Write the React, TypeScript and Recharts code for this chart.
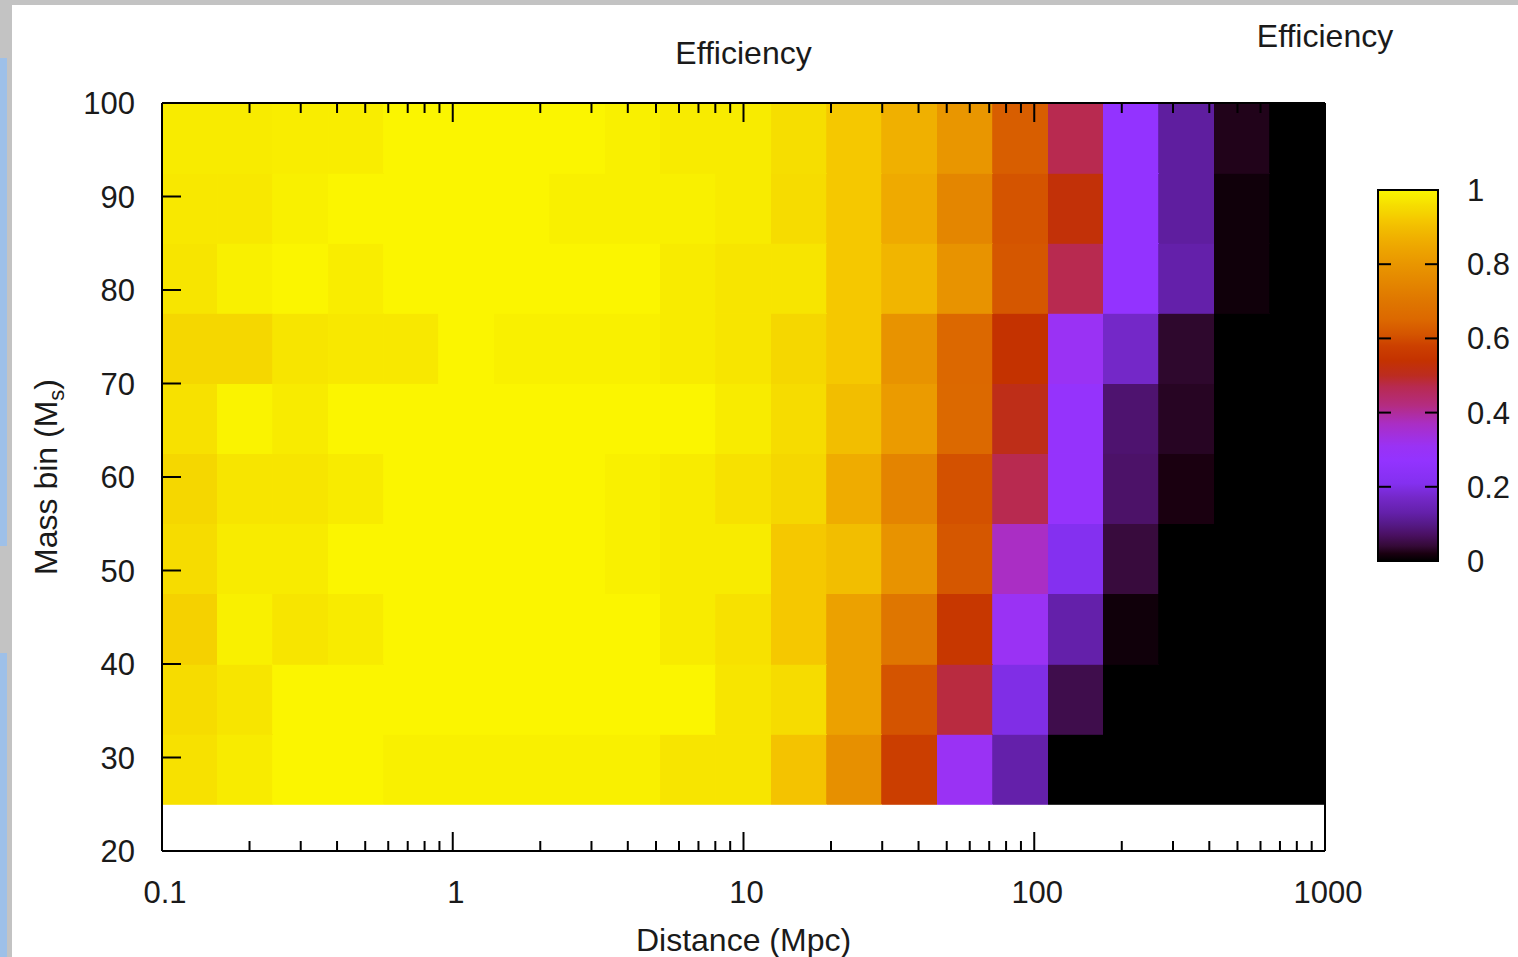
import React from 'react';
import { ComposedChart, XAxis, YAxis, ReferenceArea, Label, Scatter } from 'recharts';

// ---------------- data ----------------
// Distance bin edges (Mpc), logarithmic bins from 0.1 to 1000
const distanceBinEdges = [
  0.1, 0.15505, 0.24037, 0.37276, 0.57797, 0.89615, 1.3895, 2.15443, 3.34048, 5.17947, 8.03085,
  12.452, 19.307, 29.9358, 46.4159, 71.9686, 111.589, 173.021, 268.27, 415.956, 644.946, 1000,
];
// Mass bin edges (M_s)
const massBinEdges = [25, 32.5, 40, 47.5, 55, 62.5, 70, 77.5, 85, 92.5, 100];

// Efficiency per mass bin (bottom to top), one value per distance bin
const effMass25 = [0.965, 0.98, 1, 1, 0.99, 0.99, 0.99, 0.99, 0.99, 0.97, 0.97, 0.91, 0.78, 0.575, 0.31, 0.13, 0, 0, 0, 0, 0];
const effMass32 = [0.955, 0.97, 1, 1, 1, 1, 1, 1, 1, 1, 0.97, 0.955, 0.83, 0.61, 0.48, 0.2, 0.055, 0, 0, 0, 0];
const effMass40 = [0.935, 0.99, 0.97, 0.98, 1, 1, 1, 1, 1, 0.98, 0.965, 0.92, 0.83, 0.7, 0.555, 0.31, 0.13, 0.012, 0, 0, 0];
const effMass47 = [0.955, 0.98, 0.98, 1, 1, 1, 1, 1, 0.99, 0.98, 0.98, 0.92, 0.9, 0.79, 0.615, 0.37, 0.21, 0.045, 0, 0, 0];
const effMass55 = [0.945, 0.97, 0.97, 0.98, 1, 1, 1, 1, 0.99, 0.98, 0.965, 0.945, 0.86, 0.745, 0.605, 0.47, 0.28, 0.075, 0.02, 0, 0];
const effMass62 = [0.965, 0.995, 0.98, 1, 1, 1, 1, 1, 1, 1, 0.98, 0.955, 0.9, 0.815, 0.655, 0.51, 0.28, 0.08, 0.03, 0, 0];
const effMass70 = [0.945, 0.945, 0.97, 0.975, 0.975, 1, 0.99, 0.99, 0.99, 0.98, 0.97, 0.945, 0.92, 0.79, 0.65, 0.54, 0.31, 0.17, 0.035, 0, 0];
const effMass77 = [0.97, 0.99, 1, 0.985, 1, 1, 1, 1, 1, 0.98, 0.97, 0.97, 0.92, 0.88, 0.79, 0.615, 0.47, 0.27, 0.13, 0.012, 0];
const effMass85 = [0.975, 0.975, 0.99, 1, 1, 1, 1, 0.99, 0.99, 0.99, 0.98, 0.955, 0.92, 0.855, 0.75, 0.61, 0.53, 0.27, 0.12, 0.012, 0];
const effMass92 = [0.98, 0.98, 0.985, 0.985, 1, 1, 1, 1, 0.99, 0.98, 0.98, 0.96, 0.92, 0.87, 0.8, 0.63, 0.47, 0.27, 0.12, 0.025, 0];
const efficiencyRows = [effMass25, effMass32, effMass40, effMass47, effMass55, effMass62, effMass70, effMass77, effMass85, effMass92];

// Tick labels
const xMajorTicks = [0.1, 1, 10, 100, 1000];
const xMinorTicks = [
  0.2, 0.3, 0.4, 0.5, 0.6, 0.7, 0.8, 0.9,
  2, 3, 4, 5, 6, 7, 8, 9,
  20, 30, 40, 50, 60, 70, 80, 90,
  200, 300, 400, 500, 600, 700, 800, 900,
];
const yTicks = [20, 30, 40, 50, 60, 70, 80, 90, 100];
const colorbarTicks = [0, 0.2, 0.4, 0.6, 0.8, 1];

// Colour palette (value -> colour)
const paletteStops = [0, 0.02, 0.04, 0.07, 0.1, 0.13, 0.17, 0.21, 0.27, 0.31, 0.37, 0.42, 0.47, 0.5, 0.54, 0.58, 0.61, 0.65, 0.7, 0.75, 0.8, 0.84, 0.87, 0.9, 0.92, 0.94, 0.96, 0.975, 0.99, 1];
const paletteColors = [
  '#000000', '#1a0010', '#340a36', '#4a1062', '#561a88', '#6420aa', '#7428c8', '#8430f0', '#9333ff', '#9a32f4',
  '#aa2ec4', '#b42c80', '#b82a50', '#bc2c20', '#c43200', '#cc4000', '#d45400', '#dc6800', '#df7600', '#e48600',
  '#e99600', '#eda400', '#f0b000', '#f2be00', '#f5c800', '#f5d400', '#f6de00', '#f8e800', '#f9f000', '#fbf500',
];

// ---------------- helpers ----------------
const AXIS = '#000000';
const TEXT = '#1a1a1a';
const FONT = '"Liberation Sans", Arial, Helvetica, sans-serif';

function hexToRgb(h: string) {
  return [parseInt(h.slice(1, 3), 16), parseInt(h.slice(3, 5), 16), parseInt(h.slice(5, 7), 16)];
}
function colorFor(v: number) {
  if (v <= paletteStops[0]) return paletteColors[0];
  for (let i = 1; i < paletteStops.length; i++) {
    if (v <= paletteStops[i]) {
      const t = (v - paletteStops[i - 1]) / (paletteStops[i] - paletteStops[i - 1]);
      const a = hexToRgb(paletteColors[i - 1]);
      const b = hexToRgb(paletteColors[i]);
      const c = a.map((av, k) => Math.round(av + (b[k] - av) * t));
      return `rgb(${c[0]},${c[1]},${c[2]})`;
    }
  }
  return paletteColors[paletteColors.length - 1];
}

const cells = efficiencyRows.flatMap((row, r) =>
  row.map((v, c) => ({
    key: `${r}-${c}`,
    x1: distanceBinEdges[c],
    x2: distanceBinEdges[c + 1],
    y1: massBinEdges[r],
    y2: massBinEdges[r + 1],
    cx: Math.sqrt(distanceBinEdges[c] * distanceBinEdges[c + 1]),
    cy: (massBinEdges[r] + massBinEdges[r + 1]) / 2,
    value: v,
    fill: colorFor(v),
  }))
);

const allXTicks = [...xMajorTicks, ...xMinorTicks].sort((a, b) => a - b);
const colorbarAnchor = [{ x: 0.5, y: 0.5 }];

// ---------------- tick renderers ----------------
function BottomTick(props: any) {
  const { x, y, payload } = props;
  const v = payload.value;
  const major = xMajorTicks.includes(v);
  return (
    <g>
      <line x1={x} x2={x} y1={y} y2={y - (major ? 19 : 10)} stroke={AXIS} strokeWidth={2} />
      {major && (
        <text x={x + 3} y={y + 52} textAnchor="middle" fontSize={31} fill={TEXT} fontFamily={FONT}>
          {String(v)}
        </text>
      )}
    </g>
  );
}
function TopTick(props: any) {
  const { x, y, payload } = props;
  const major = xMajorTicks.includes(payload.value);
  return <line x1={x} x2={x} y1={y} y2={y + (major ? 19 : 10)} stroke={AXIS} strokeWidth={2} />;
}
function LeftTick(props: any) {
  const { x, y, payload } = props;
  return (
    <g>
      <line x1={x} x2={x + 19} y1={y} y2={y} stroke={AXIS} strokeWidth={2} />
      <text x={x - 27} y={y + 11} textAnchor="end" fontSize={31} fill={TEXT} fontFamily={FONT}>
        {String(payload.value)}
      </text>
    </g>
  );
}
function RightTick(props: any) {
  const { x, y } = props;
  return <line x1={x} x2={x - 19} y1={y} y2={y} stroke={AXIS} strokeWidth={2} />;
}
function CbLeftTick(props: any) {
  const { x, y } = props;
  return <line x1={x} x2={x + 13} y1={y} y2={y} stroke={AXIS} strokeWidth={2} />;
}
function CbRightTick(props: any) {
  const { x, y, payload } = props;
  return (
    <g>
      <line x1={x} x2={x - 13} y1={y} y2={y} stroke={AXIS} strokeWidth={2} />
      <text x={x + 29} y={y + 11} textAnchor="start" fontSize={31} fill={TEXT} fontFamily={FONT}>
        {String(payload.value)}
      </text>
    </g>
  );
}
const NoShape = () => <g />;

// ---------------- labels ----------------
function XTitle(props: any) {
  const vb = props.viewBox || {};
  return (
    <text x={vb.x + vb.width / 2} y={vb.y + 100} textAnchor="middle" fontSize={32} fill={TEXT} fontFamily={FONT}>
      Distance (Mpc)
    </text>
  );
}
function TopTitle(props: any) {
  const vb = props.viewBox || {};
  return (
    <text x={vb.x + vb.width / 2} y={vb.y + 64} textAnchor="middle" fontSize={32} fill={TEXT} fontFamily={FONT}>
      Efficiency
    </text>
  );
}
function YTitle(props: any) {
  const vb = props.viewBox || {};
  const cx = vb.x + 45;
  const cy = vb.y + vb.height / 2;
  return (
    <text
      x={cx}
      y={cy}
      transform={`rotate(-90, ${cx}, ${cy})`}
      textAnchor="middle"
      fontSize={32}
      fill={TEXT}
      fontFamily={FONT}
    >
      Mass bin (M
      <tspan dy={7} fontSize={22}>s</tspan>
      <tspan dy={-7}>)</tspan>
    </text>
  );
}

export default function App() {
  return (
    <div style={{ position: 'fixed', left: 0, top: 0, width: 1518, height: 957, background: '#ffffff', overflow: 'hidden' }}>
      {/* slide frame */}
      <div style={{ position: 'absolute', left: 0, top: 0, width: 1518, height: 5, background: '#c3c3c3' }} />
      <div style={{ position: 'absolute', left: 0, top: 0, width: 12, height: 957, background: '#c3c3c3' }} />
      <div style={{ position: 'absolute', left: 0, top: 58, width: 7, height: 488, background: '#9ec0e8' }} />
      <div style={{ position: 'absolute', left: 0, top: 653, width: 7, height: 304, background: '#9ec0e8' }} />

      <div style={{ position: 'absolute', left: 0, top: 0 }}>
        <ComposedChart width={1518} height={957} data={cells} margin={{ top: 0, right: 0, bottom: 0, left: 12 }}>
          {cells.map((c) => (
            <ReferenceArea
              key={c.key}
              x1={c.x1}
              x2={c.x2}
              y1={c.y1}
              y2={c.y2}
              fill={c.fill}
              fillOpacity={1}
              stroke={c.fill}
              strokeWidth={0.8}
              shapeRendering="crispEdges"
              ifOverflow="visible"
            />
          ))}
          <Scatter data={cells} dataKey="cy" shape={<NoShape />} isAnimationActive={false} />
          <XAxis
            dataKey="cx"
            type="number"
            scale="log"
            domain={[0.1, 1000]}
            allowDataOverflow
            ticks={allXTicks}
            interval={0}
            height={106}
            tickSize={0}
            tickMargin={0}
            tickLine={false}
            tick={<BottomTick />}
            axisLine={{ stroke: AXIS, strokeWidth: 2 }}
          >
            <Label content={<XTitle />} />
          </XAxis>
          <XAxis
            xAxisId="top"
            dataKey="cx"
            orientation="top"
            type="number"
            scale="log"
            domain={[0.1, 1000]}
            allowDataOverflow
            ticks={allXTicks}
            interval={0}
            height={103}
            tickSize={0}
            tickMargin={0}
            tickLine={false}
            tick={<TopTick />}
            axisLine={{ stroke: AXIS, strokeWidth: 2 }}
          >
            <Label content={<TopTitle />} />
          </XAxis>
          <YAxis
            dataKey="cy"
            type="number"
            domain={[20, 100]}
            allowDataOverflow
            ticks={yTicks}
            interval={0}
            width={150}
            tickSize={0}
            tickMargin={0}
            tickLine={false}
            tick={<LeftTick />}
            axisLine={{ stroke: AXIS, strokeWidth: 2 }}
          >
            <Label content={<YTitle />} />
          </YAxis>
          <YAxis
            yAxisId="right"
            dataKey="cy"
            orientation="right"
            type="number"
            domain={[20, 100]}
            allowDataOverflow
            ticks={yTicks}
            interval={0}
            width={193}
            tickSize={0}
            tickMargin={0}
            tickLine={false}
            tick={<RightTick />}
            axisLine={{ stroke: AXIS, strokeWidth: 2 }}
          />
        </ComposedChart>
      </div>

      {/* colour bar */}
      <div style={{ position: 'absolute', left: 1370, top: 150 }}>
        <ComposedChart width={148} height={440} data={colorbarAnchor} margin={{ top: 40, right: 10, bottom: 29, left: 7 }}>
          <defs>
            <linearGradient id="cbGrad" x1="0" y1="1" x2="0" y2="0">
              {paletteStops.map((s, i) => (
                <stop key={i} offset={s} stopColor={paletteColors[i]} />
              ))}
            </linearGradient>
          </defs>
          <ReferenceArea
            yAxisId="cbl"
            x1={0}
            x2={1}
            y1={0}
            y2={1}
            fill="url(#cbGrad)"
            fillOpacity={1}
            stroke={AXIS}
            strokeWidth={2}
            ifOverflow="visible"
          />
          <Scatter yAxisId="cbl" data={colorbarAnchor} dataKey="y" shape={<NoShape />} isAnimationActive={false} />
          <XAxis dataKey="x" type="number" domain={[0, 1]} allowDataOverflow hide />
          <YAxis
            yAxisId="cbl"
            dataKey="y"
            type="number"
            domain={[0, 1]}
            allowDataOverflow
            ticks={colorbarTicks}
            interval={0}
            width={1}
            tickSize={0}
            tickMargin={0}
            tickLine={false}
            axisLine={false}
            tick={<CbLeftTick />}
          />
          <YAxis
            yAxisId="cbr"
            dataKey="y"
            orientation="right"
            type="number"
            domain={[0, 1]}
            allowDataOverflow
            ticks={colorbarTicks}
            interval={0}
            width={70}
            tickSize={0}
            tickMargin={0}
            tickLine={false}
            axisLine={false}
            tick={<CbRightTick />}
          />
        </ComposedChart>
      </div>

      {/* colour bar title */}
      <svg style={{ position: 'absolute', left: 1225, top: 10 }} width={200} height={50}>
        <text x={100} y={37} textAnchor="middle" fontSize={32} fill={TEXT} fontFamily={FONT}>
          Efficiency
        </text>
      </svg>
    </div>
  );
}
